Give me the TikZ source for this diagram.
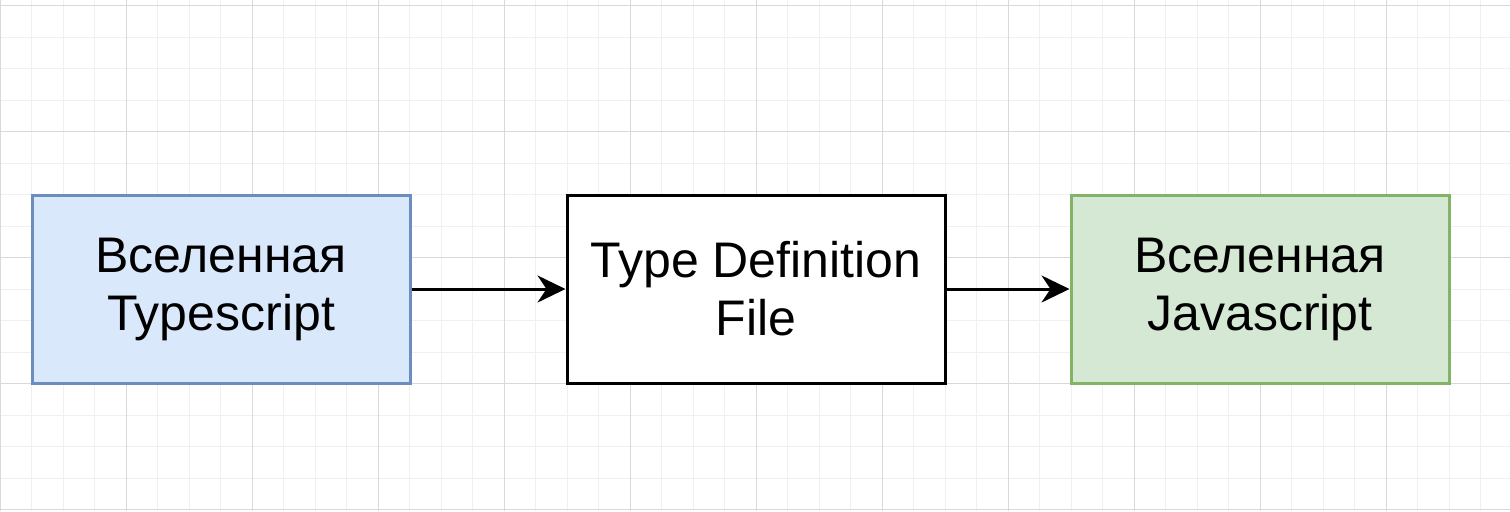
\documentclass[tikz,border=0pt]{standalone}
\usepackage{fontspec}
\setmainfont{Liberation Sans}
\usetikzlibrary{arrows.meta}

\definecolor{tsfill}{HTML}{DAE8FC}
\definecolor{tsline}{HTML}{6C8EBF}
\definecolor{jsfill}{HTML}{D5E8D4}
\definecolor{jsline}{HTML}{82B366}

\begin{document}
\begin{tikzpicture}[x=0.5pt,y=-0.5pt,
    minorgrid/.style={draw=black!6,line width=0.5pt},
    majorgrid/.style={draw=black!15,line width=0.5pt},
    box/.style={draw,line width=1.5pt,minimum width=189pt,minimum height=94pt,
      inner sep=0pt,align=center,font=\fontsize{25}{29}\selectfont},
    flow/.style={line width=1.5pt,-{Stealth[length=14pt,width=13.5pt,inset=4.5pt]}}]
  % Canvas
  \useasboundingbox (0,0) rectangle (1510,511);
  \fill[white] (0,0) rectangle (1510,511);

  % Background grid (minor every 31.5, major every 126)
  \begin{scope}
    \clip (0,0) rectangle (1510,511);
    \foreach \i in {0,...,47} \draw[minorgrid] ({\i*31.5},0) -- ({\i*31.5},511);
    \foreach \j in {0,...,16} \draw[minorgrid] (0,{5.5+\j*31.5}) -- (1510,{5.5+\j*31.5});
    \foreach \i in {0,...,11} \draw[majorgrid] ({\i*126},0) -- ({\i*126},511);
    \foreach \j in {0,...,4} \draw[majorgrid] (0,{5.5+\j*126}) -- (1510,{5.5+\j*126});
  \end{scope}

  % Boxes
  \node[box,fill=tsfill,draw=tsline] (ts)  at (221,289)  {Вселенная\\Typescript};
  \node[box,fill=white,draw=black]   (tdf) at (756,289)  {Type Definition\\File};
  \node[box,fill=jsfill,draw=jsline] (js)  at (1260,289) {Вселенная\\Javascript};

  % Arrows
  \draw[flow] (ts.east) -- (tdf.west);
  \draw[flow] (tdf.east) -- (js.west);
\end{tikzpicture}
\end{document}
